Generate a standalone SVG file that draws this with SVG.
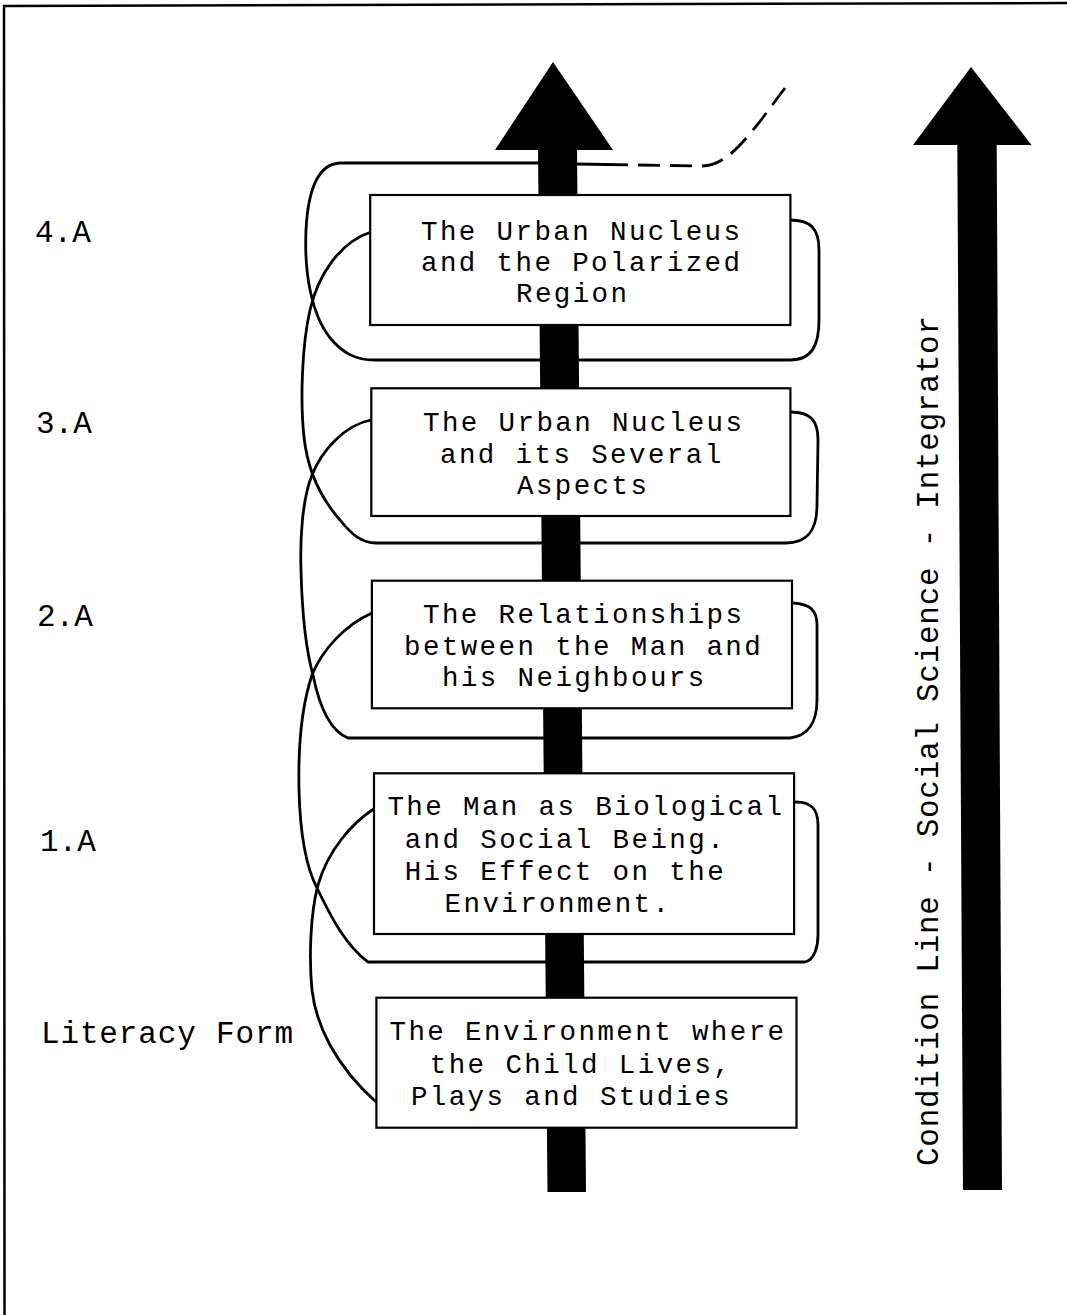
<svg xmlns="http://www.w3.org/2000/svg" width="1067" height="1315" viewBox="0 0 1067 1315">
<style>
.t{font-family:"Liberation Mono","Courier New",monospace;font-size:27.5px;letter-spacing:2.4px;fill:#000}
.lbl{font-family:"Liberation Mono","Courier New",monospace;font-size:31px;fill:#000}
.box{fill:#fff;stroke:#000;stroke-width:2.2}
.c{fill:none;stroke:#000;stroke-width:2.8;stroke-linecap:round;stroke-linejoin:round}
.d{fill:none;stroke:#000;stroke-width:2.8;stroke-dasharray:22 10}
</style>
<rect x="0" y="0" width="1067" height="1315" fill="#fff"/>
<path d="M4.5 1315 L4 6 L1067 3" fill="none" stroke="#000" stroke-width="2.5"/>

<g id="central-arrow">
<polygon points="553,62 613,150 495,150" fill="#000"/>
<polygon points="538,148 577,148 586,1192 547.5,1192" fill="#000"/>
</g>

<g id="connectors">
<path class="c" d="M545 163 L340 163 C318 164 308 190 306 230 C304 275 312 315 330 338 C343 353 355 360 375 360 L790 360 C812 360 819 345 819 320 L819 250 C819 228 810 220 790 220"/>
<path class="c" d="M575 164 L606 164.5"/>
<path class="d" d="M606 164.5 L702 166 C725 166 743 142 758 124 L785 88"/>
<path class="c" d="M371 232 C340 242 318 275 310 310 C302 345 300 400 304 437 C307 465 318 495 340 520 C352 535 362 543 376 543 L786 543 C808 543 817 530 817 505 L818 440 C818 420 810 412 791 412"/>
<path class="c" d="M371 420 C345 425 322 450 312 475 C302 500 300 540 301 570 C302 610 306 650 313 675 C318 700 328 730 348 738 L790 738 C808 736 817 722 817 700 L817 625 C817 610 810 604 793 603"/>
<path class="c" d="M372 613 C345 625 322 650 312 675 C302 705 298 745 299 790 C300 830 305 865 317 888 C330 915 345 945 368 962 L805 962 C815 960 818 945 818 935 L818 825 C818 810 812 802 796 802"/>
<path class="c" d="M375 808 C352 823 328 850 318 885 C310 915 309 960 312 990 C316 1025 335 1065 376 1102"/>
</g>

<g id="node-4A">
<rect class="box" x="370.2" y="195" width="420.2" height="130"/>
<text class="t" x="421" y="240">The Urban Nucleus</text>
<text class="t" x="421" y="271">and the Polarized</text>
<text class="t" x="516" y="302">Region</text>
</g>
<g id="node-3A">
<rect class="box" x="371.3" y="388.3" width="419.1" height="127.7"/>
<text class="t" x="423" y="431">The Urban Nucleus</text>
<text class="t" x="440" y="463">and its Several</text>
<text class="t" x="517" y="494">Aspects</text>
</g>
<g id="node-2A">
<rect class="box" x="371.9" y="580.7" width="420.1" height="127.6"/>
<text class="t" x="423" y="623">The Relationships</text>
<text class="t" x="404" y="655">between the Man and</text>
<text class="t" x="442" y="686">his Neighbours</text>
</g>
<g id="node-1A">
<rect class="box" x="374" y="773.3" width="420.1" height="160.7"/>
<text class="t" x="387.4" y="815">The Man as Biological</text>
<text class="t" x="404.7" y="848">and Social Being.</text>
<text class="t" x="404.7" y="880">His Effect on the</text>
<text class="t" x="444.6" y="912">Environment.</text>
</g>
<g id="node-literacy">
<rect class="box" x="376.4" y="997.7" width="420.1" height="130"/>
<text class="t" x="389.5" y="1040">The Environment where</text>
<text class="t" x="429.8" y="1073">the Child Lives,</text>
<text class="t" x="410.9" y="1105">Plays and Studies</text>
</g>

<g id="labels">
<text class="lbl" x="35" y="242">4.A</text>
<text class="lbl" x="36" y="433">3.A</text>
<text class="lbl" x="37" y="626">2.A</text>
<text class="lbl" x="40" y="851">1.A</text>
<text class="lbl" x="41" y="1043" textLength="252" lengthAdjust="spacing">Literacy Form</text>
</g>

<g id="right-arrow">
<polygon points="971,67 1031.5,145 913,145" fill="#000"/>
<polygon points="957.3,143 996.7,143 1002,1190 963,1190" fill="#000"/>
<text class="lbl" transform="translate(938,1166) rotate(-90)" textLength="850" lengthAdjust="spacing">Condition Line - Social Science - Integrator</text>
</g>
</svg>
